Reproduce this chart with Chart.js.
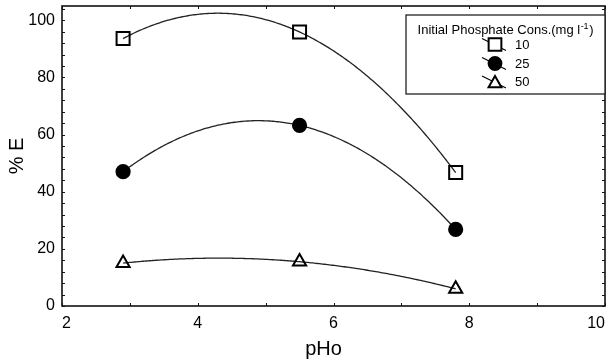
<!DOCTYPE html>
<html><head><meta charset="utf-8">
<script src="https://cdn.jsdelivr.net/npm/chart.js@4/dist/chart.umd.min.js"></script>
<style>html,body{margin:0;padding:0;background:#fff;}#wrap{width:608px;height:361px;position:relative;}</style>
</head><body><div id="wrap"><canvas id="c" width="608" height="361"></canvas></div>
<script>
// ---- data ----
const pH = [2.9, 5.5, 7.8];
const E10 = [93.6, 95.9, 46.7];
const E25 = [47.0, 63.2, 26.8];
const E50 = [15.0, 15.5, 6.0];
const seriesLabels = ['10', '25', '50'];
const xTickValues = [2, 4, 6, 8, 10];
const yTickValues = [0, 20, 40, 60, 80, 100];
const xMinorTicks = [2, 3, 4, 5, 6, 7, 8, 9, 10];
const yMinorTicks = [0, 4, 8, 12, 16, 20, 24, 28, 32, 36, 40, 44, 48, 52, 56, 60, 64, 68, 72, 76, 80, 84, 88, 92, 96, 100, 104];
const legendTitleMain = 'Initial Phosphate Cons.(mg l';
const legendTitleSup = '-1';
const legendTitleEnd = ')';
const xTitle = 'pHo';
const yTitle = '% E';

const FONT = "'Liberation Sans', Arial, Helvetica, sans-serif";
Chart.defaults.font.family = FONT;
Chart.defaults.color = '#000';

const styles = [
  {pointStyle: 'rect', radius: 9.2, fill: 'rgba(0,0,0,0)'},
  {pointStyle: 'circle', radius: 6.6, fill: '#000'},
  {pointStyle: 'triangle', radius: 7.6, fill: 'rgba(0,0,0,0)'}
];
const seriesValues = [E10, E25, E50];

const datasets = seriesValues.map((vals, i) => ({
  label: seriesLabels[i],
  data: pH.map((x, j) => ({x: x, y: vals[j]})),
  showLine: false,
  pointStyle: styles[i].pointStyle,
  pointRadius: styles[i].radius,
  pointHoverRadius: styles[i].radius,
  pointBackgroundColor: styles[i].fill,
  pointBorderColor: '#000',
  pointBorderWidth: 2
}));

// quadratic through the three measured points of each series (fitted curve)
function quadFit(xs, ys) {
  return function (x) {
    let s = 0;
    for (let i = 0; i < 3; i++) {
      let t = ys[i];
      for (let j = 0; j < 3; j++) if (j !== i) t *= (x - xs[j]) / (xs[i] - xs[j]);
      s += t;
    }
    return s;
  };
}

const curvePlugin = {
  id: 'curves',
  beforeDatasetsDraw(chart) {
    const {ctx, chartArea, scales: {x, y}} = chart;
    ctx.save();
    ctx.beginPath();
    ctx.rect(chartArea.left, chartArea.top, chartArea.right - chartArea.left, chartArea.bottom - chartArea.top);
    ctx.clip();
    ctx.strokeStyle = '#222';
    ctx.lineWidth = 1.3;
    chart.data.datasets.forEach(ds => {
      const xs = ds.data.map(p => p.x), ys = ds.data.map(p => p.y);
      const f = quadFit(xs, ys);
      ctx.beginPath();
      const n = 200;
      for (let k = 0; k <= n; k++) {
        const xv = xs[0] + (xs[2] - xs[0]) * k / n;
        const px = x.getPixelForValue(xv), py = y.getPixelForValue(f(xv));
        if (k === 0) ctx.moveTo(px, py); else ctx.lineTo(px, py);
      }
      ctx.stroke();
    });
    ctx.restore();
  }
};

function drawMarker(ctx, style, cx, cy, r, fill) {
  ctx.beginPath();
  if (style === 'rect') {
    const s = Math.SQRT1_2 * r;
    ctx.rect(cx - s, cy - s, 2 * s, 2 * s);
  } else if (style === 'circle') {
    ctx.arc(cx, cy, r, 0, Math.PI * 2);
  } else {
    ctx.moveTo(cx, cy - r);
    ctx.lineTo(cx + r * Math.sin(2 * Math.PI / 3), cy - r * Math.cos(2 * Math.PI / 3));
    ctx.lineTo(cx + r * Math.sin(4 * Math.PI / 3), cy - r * Math.cos(4 * Math.PI / 3));
    ctx.closePath();
  }
  ctx.fillStyle = fill;
  ctx.fill();
  ctx.lineWidth = 2;
  ctx.strokeStyle = '#000';
  ctx.stroke();
}

const framePlugin = {
  id: 'frame',
  afterDatasetsDraw(chart) {
    const {ctx, chartArea: a, scales: {x, y}} = chart;
    ctx.save();
    ctx.strokeStyle = '#111';
    ctx.lineWidth = 1.6;
    ctx.strokeRect(a.left, a.top, a.right - a.left, a.bottom - a.top);
    ctx.lineWidth = 1;
    ctx.beginPath();
    const tl = 3;
    xMinorTicks.forEach(v => {
      const px = Math.round(x.getPixelForValue(v)) + 0.5;
      ctx.moveTo(px, a.bottom); ctx.lineTo(px, a.bottom - tl);
      ctx.moveTo(px, a.top); ctx.lineTo(px, a.top + tl);
    });
    yMinorTicks.forEach(v => {
      const py = Math.round(y.getPixelForValue(v)) + 0.5;
      ctx.moveTo(a.left, py); ctx.lineTo(a.left + tl, py);
      ctx.moveTo(a.right, py); ctx.lineTo(a.right - tl, py);
    });
    ctx.stroke();

    // legend box
    const bx = 406, by = a.top + 9, bw = a.right - 406, bh = 79;
    ctx.fillStyle = '#fff';
    ctx.fillRect(bx, by, bw, bh);
    ctx.strokeStyle = '#222';
    ctx.lineWidth = 1.3;
    ctx.strokeRect(bx, by, bw, bh);
    // title
    ctx.fillStyle = '#000';
    ctx.textBaseline = 'alphabetic';
    ctx.textAlign = 'left';
    const f1 = '13px ' + FONT, f2 = '9px ' + FONT;
    ctx.font = f1; const w1 = ctx.measureText(legendTitleMain).width; const w3 = ctx.measureText(legendTitleEnd).width;
    ctx.font = f2; const w2 = ctx.measureText(legendTitleSup).width;
    const cxT = bx + bw / 2;
    let tx = cxT - (w1 + w2 + w3 + 1) / 2;
    const base = by + 19;
    ctx.font = f1; ctx.fillText(legendTitleMain, tx, base); tx += w1 + 0.5;
    ctx.font = f2; ctx.fillText(legendTitleSup, tx, base - 5); tx += w2 + 0.5;
    ctx.font = f1; ctx.fillText(legendTitleEnd, tx, base);
    // items
    const mx = 495;
    const rows = [by + 29.5, by + 48.5, by + 67];
    chart.data.datasets.forEach((ds, i) => {
      const cy = rows[i];
      ctx.beginPath();
      ctx.strokeStyle = '#000';
      ctx.lineWidth = 1.2;
      ctx.moveTo(mx - 13, cy - 6);
      ctx.lineTo(mx + 11, cy + 6);
      ctx.stroke();
      const r = i === 0 ? 9 : (i === 1 ? 6.4 : 7.4);
      drawMarker(ctx, styles[i].pointStyle, mx, cy + (i === 2 ? 1.5 : 0), r, i === 1 ? '#000' : '#fff');
      ctx.fillStyle = '#000';
      ctx.font = '13px ' + FONT;
      ctx.textBaseline = 'middle';
      ctx.fillText(ds.label, 515, cy + 0.5);
    });
    ctx.restore();
  }
};

new Chart(document.getElementById('c'), {
  type: 'scatter',
  data: {datasets},
  options: {
    responsive: false,
    animation: false,
    devicePixelRatio: 1,
    layout: {autoPadding: false, padding: {left: 0, right: 3, top: 6, bottom: 0}},
    plugins: {legend: {display: false}, tooltip: {enabled: false}},
    scales: {
      x: {
        type: 'linear', min: 2, max: 10,
        afterBuildTicks: s => { s.ticks = xTickValues.map(v => ({value: v})); },
        afterFit: s => { s.height = 55; s.paddingLeft = 0; s.paddingRight = 0; },
        ticks: {font: {size: 16}, padding: 8, maxRotation: 0, autoSkip: false, align: 'inner', color: '#000'},
        grid: {display: false, drawTicks: false},
        border: {display: false},
        title: {display: true, text: xTitle + '\u2002\u2002', font: {size: 20}, color: '#000', padding: {top: 0, bottom: 0}}
      },
      y: {
        type: 'linear', min: 0, max: 105,
        afterBuildTicks: s => { s.ticks = yTickValues.map(v => ({value: v})); },
        afterFit: s => { s.width = 62; s.paddingTop = 0; s.paddingBottom = 0; },
        ticks: {font: {size: 16}, padding: 7, color: '#000'},
        grid: {display: false, drawTicks: false},
        border: {display: false},
        title: {display: true, text: yTitle, font: {size: 20}, color: '#000', padding: {top: 5, bottom: 0}}
      }
    }
  },
  plugins: [curvePlugin, framePlugin]
});
</script></body></html>
